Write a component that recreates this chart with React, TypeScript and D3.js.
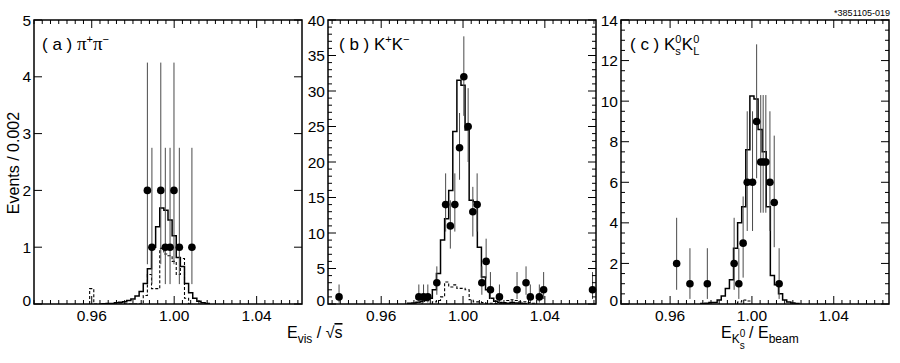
import React, { useEffect, useRef } from 'react';
import * as d3 from 'd3';

// bin width of every histogram
const binW = 0.002;

// (a) pi+ pi-
const piPointX = [0.987, 0.9892, 0.9935, 0.9957, 0.998, 0.9999, 1.0025, 1.0086];
const piPointY = [2, 1, 2, 1, 1, 2, 1, 1];
const piErrLo = [0.7, 0.35, 0.7, 0.35, 0.35, 0.7, 0.35, 0.35];
const piErrHi = [4.25, 2.75, 4.25, 2.75, 2.75, 4.25, 2.75, 2.75];
const piMcStart = 0.966;
const piMc = [0.005, 0.01, 0.01, 0.02, 0.03, 0.04, 0.06, 0.09, 0.14, 0.22, 0.36, 0.62, 1.0, 1.36, 1.69, 1.65, 1.48, 1.2, 0.82, 0.66, 0.36, 0.2, 0.1, 0.05, 0.02, 0.01];
const piBgStart = 0.960;
const piBg = [0.27, 0, 0, 0, 0, 0, 0, 0, 0, 0, 0, 0, 0, 0.15, 0.52, 0.27, 0.27, 0.98, 0.88, 0.85, 0.75, 0.52, 0.8, 0.1, 0];

// (b) K+ K-
const kkPointX = [0.9394, 0.9784, 0.9807, 0.9828, 0.9872, 0.9915, 0.9938, 0.996, 0.9983, 1.0004, 1.0025, 1.0048, 1.0069, 1.0092, 1.0113, 1.0134, 1.0178, 1.0264, 1.0308, 1.0329, 1.0373, 1.0394, 1.0633];
const kkPointY = [1, 1, 1, 1, 3, 14, 11, 14, 22, 32, 25, 13, 14, 3, 6, 2, 1, 2, 3, 1, 1, 2, 2];
const kkErrLo = [0.2, 0.2, 0.2, 0.2, 1.3, 10.2, 7.8, 10.2, 17.5, 26.5, 20, 9.5, 10.2, 1.3, 3.6, 0.7, 0.2, 0.7, 1.3, 0.2, 0.2, 0.7, 0.7];
const kkErrHi = [2.75, 2.75, 2.75, 2.75, 5.3, 18.4, 14.6, 18.4, 26.9, 37.7, 30.4, 16.5, 18.4, 5.3, 9.2, 4.5, 2.75, 4.5, 5.3, 2.75, 2.75, 4.5, 4.5];
const kkMcStart = 0.974;
const kkMc = [0.1, 0.15, 0.25, 0.4, 0.5, 0.8, 2.0, 4.3, 9.0, 12.0, 16.0, 24.3, 31.5, 30.8, 24.5, 14.6, 14.4, 8.0, 3.8, 2.0, 0.8, 0.4, 0.2, 0.15, 0.1, 0.2, 0.15, 0.1, 0.05];
const kkBgStart = 0.986;
const kkBg = [0.3, 0.5, 1.0, 3.1, 2.4, 2.7, 2.2, 2.2, 2.0, 0.6, 0.3, 0.3, 0.2, 0.1, 0.1, 0.05, 0.1, 0.2, 0.5, 0.6, 0.5, 0.3, 0.3, 0.2, 0.1];

// (c) Ks KL
const ksPointX = [0.9632, 0.9697, 0.9782, 0.9913, 0.9936, 0.9957, 0.9977, 1.0003, 1.0023, 1.0043, 1.0055, 1.0068, 1.0088, 1.0109, 1.0133];
const ksPointY = [2, 1, 1, 2, 1, 3, 6, 6, 9, 7, 7, 7, 6, 5, 1];
const ksErrLo = [0.7, 0.25, 0.25, 0.7, 0.25, 1.3, 3.6, 3.6, 6.2, 4.5, 4.5, 4.5, 3.6, 2.8, 0.25];
const ksErrHi = [4.25, 2.75, 2.75, 4.25, 2.75, 5.3, 9.5, 9.5, 12.8, 10.3, 10.3, 10.3, 9.5, 8.3, 2.75];
const ksMcStart = 0.976;
const ksMc = [0.02, 0.04, 0.07, 0.07, 0.2, 0.4, 0.77, 1.2, 2.75, 4.0, 4.8, 7.6, 10.25, 10.1, 8.6, 7.5, 4.8, 1.4, 0.95, 0.5, 0.2, 0.1, 0.05, 0.02];
const ksBgStart = 0.994;
const ksBg = [0.1, 0.2, 0.15];

const xTickLabels = ['0.96', '1.00', '1.04'];

const FONT = 'Liberation Sans, Arial, Helvetica, sans-serif';

const panels = [
    { left: 34, domain: [0.932, 1.062], yMax: 5, yMajor: 1, yMinor: 0, px: piPointX, py: piPointY, lo: piErrLo, hi: piErrHi, mcStart: piMcStart, mc: piMc, bgStart: piBgStart, bg: piBg },
    { left: 328, domain: [0.934, 1.065], yMax: 40, yMajor: 5, yMinor: 1, px: kkPointX, py: kkPointY, lo: kkErrLo, hi: kkErrHi, mcStart: kkMcStart, mc: kkMc, bgStart: kkBgStart, bg: kkBg },
    { left: 621, domain: [0.936, 1.067], yMax: 14, yMajor: 2, yMinor: 0.5, px: ksPointX, py: ksPointY, lo: ksErrLo, hi: ksErrHi, mcStart: ksMcStart, mc: ksMc, bgStart: ksBgStart, bg: ksBg },
];

const App = () => {
    const svgRef = useRef<SVGSVGElement>(null);

    useEffect(() => {
        const svg = d3.select(svgRef.current);
        svg.selectAll('*').remove();

        const top = 20, bottom = 304, plotW = 268;

        panels.forEach((p, i) => {
            const x = d3.scaleLinear().domain(p.domain).range([p.left, p.left + plotW]);
            const y = d3.scaleLinear().domain([0, p.yMax]).range([bottom, top]);
            const g = svg.append('g');

            const clipId = `clip${i}`;
            svg.append('clipPath').attr('id', clipId)
                .append('rect').attr('x', p.left).attr('y', top).attr('width', plotW).attr('height', bottom - top);

            //histogram path from bin centres
            const histPath = (start: number, vals: number[]) => {
                const pts: [number, number][] = [[start - binW / 2, 0]];
                vals.forEach((v, k) => {
                    const e0 = start - binW / 2 + k * binW;
                    pts.push([e0, v], [e0 + binW, v]);
                });
                pts.push([start - binW / 2 + vals.length * binW, 0]);
                return d3.line<[number, number]>().x(d => x(d[0])).y(d => y(d[1]))(pts);
            };

            g.append('path')
                .attr('d', histPath(p.bgStart, p.bg))
                .attr('fill', 'none').attr('stroke', '#000').attr('stroke-width', 1.1)
                .attr('stroke-dasharray', '3,2')
                .attr('clip-path', `url(#${clipId})`);

            g.append('path')
                .attr('d', histPath(p.mcStart, p.mc))
                .attr('fill', 'none').attr('stroke', '#000').attr('stroke-width', 1.5)
                .attr('clip-path', `url(#${clipId})`);

            //error bars
            g.selectAll('.err').data(p.px).enter().append('line')
                .attr('x1', d => x(d)).attr('x2', d => x(d))
                .attr('y1', (d, k) => y(p.lo[k])).attr('y2', (d, k) => y(p.hi[k]))
                .attr('stroke', '#4a4a4a').attr('stroke-width', 1)
                .attr('clip-path', `url(#${clipId})`);

            //points
            g.selectAll('.dot').data(p.px).enter().append('circle')
                .attr('cx', d => x(d)).attr('cy', (d, k) => y(p.py[k]))
                .attr('r', 3.8).attr('fill', '#000');

            //frame
            g.append('rect')
                .attr('x', p.left).attr('y', top).attr('width', plotW).attr('height', bottom - top)
                .attr('fill', 'none').attr('stroke', '#000').attr('stroke-width', 1.5);

            //x ticks top and bottom
            const minorX = d3.range(Math.ceil(p.domain[0] / 0.004), Math.floor(p.domain[1] / 0.004) + 1).map(k => k * 0.004);
            minorX.forEach(v => {
                const major = xTickLabels.includes(v.toFixed(2)) && Math.abs(v * 100 - Math.round(v * 100)) < 1e-6;
                const len = major ? 8 : 4;
                g.append('line').attr('x1', x(v)).attr('x2', x(v)).attr('y1', bottom).attr('y2', bottom - len)
                    .attr('stroke', '#000').attr('stroke-width', 1);
                g.append('line').attr('x1', x(v)).attr('x2', x(v)).attr('y1', top).attr('y2', top + len)
                    .attr('stroke', '#000').attr('stroke-width', 1);
            });
            xTickLabels.forEach(t => {
                g.append('text').attr('x', x(+t)).attr('y', 321)
                    .attr('text-anchor', 'middle').attr('font-family', FONT).attr('font-size', 15.5)
                    .text(t);
            });

            //y ticks left and right
            const yTicks: number[] = p.yMinor ? d3.range(0, p.yMax + 1e-9, p.yMinor) : d3.range(0, p.yMax + 1e-9, p.yMajor);
            yTicks.forEach(v => {
                const major = Math.abs(v / p.yMajor - Math.round(v / p.yMajor)) < 1e-6;
                const len = major ? 8 : 4;
                g.append('line').attr('x1', p.left).attr('x2', p.left + len).attr('y1', y(v)).attr('y2', y(v))
                    .attr('stroke', '#000').attr('stroke-width', 1);
                g.append('line').attr('x1', p.left + plotW).attr('x2', p.left + plotW - len).attr('y1', y(v)).attr('y2', y(v))
                    .attr('stroke', '#000').attr('stroke-width', 1);
            });
            d3.range(0, p.yMax + 1e-9, p.yMajor).forEach(v => {
                // the zero label sits a little above its tick
                g.append('text').attr('x', p.left - 3).attr('y', y(v) + (v === 0 ? 1.5 : 5.5))
                    .attr('text-anchor', 'end').attr('font-family', FONT).attr('font-size', 15.5)
                    .text(String(v));
            });
        });

        const txt = (xp: number, yp: number, size: number) =>
            svg.append('text').attr('x', xp).attr('y', yp).attr('font-family', FONT).attr('font-size', size).attr('fill', '#000');

        //panel labels
        const la = txt(42, 50, 17);
        la.append('tspan').text('( a ) ');
        la.append('tspan').attr('font-family', 'Liberation Serif, serif').attr('font-size', 19).text('π');
        la.append('tspan').attr('dy', -7).attr('font-size', 11).text('+');
        la.append('tspan').attr('dy', 7).attr('font-family', 'Liberation Serif, serif').attr('font-size', 19).text('π');
        la.append('tspan').attr('dy', -7).attr('font-size', 11).text('−');

        const lb = txt(339, 50, 17);
        lb.append('tspan').text('( b ) K');
        lb.append('tspan').attr('dy', -7).attr('font-size', 11).text('+');
        lb.append('tspan').attr('dy', 7).text('K');
        lb.append('tspan').attr('dy', -7).attr('font-size', 11).text('−');

        const lc = txt(630, 50, 17);
        lc.append('tspan').text('( c ) K');
        lc.append('tspan').attr('dy', -7).attr('font-size', 11).text('0');
        lc.append('tspan').attr('dx', -6.1).attr('dy', 12).attr('font-size', 11).text('s');
        lc.append('tspan').attr('dx', 1).attr('dy', -5).text('K');
        lc.append('tspan').attr('dy', -7).attr('font-size', 11).text('0');
        lc.append('tspan').attr('dx', -6.1).attr('dy', 12).attr('font-size', 11).text('L');

        //y axis title
        svg.append('text')
            .attr('transform', 'translate(19,163) rotate(-90)')
            .attr('text-anchor', 'middle').attr('font-family', FONT).attr('font-size', 16)
            .text('Events / 0.002');

        //x axis titles
        const xa = txt(287, 338, 16);
        xa.append('tspan').text('E');
        xa.append('tspan').attr('dy', 5).attr('font-size', 12).text('vis');
        xa.append('tspan').attr('dy', -5).text(' / √');
        xa.append('tspan').style('text-decoration', 'overline').text('s');

        const xc = txt(721, 338, 16);
        xc.append('tspan').text('E');
        xc.append('tspan').attr('dy', 5).attr('font-size', 12).text('K');
        xc.append('tspan').attr('dy', -6).attr('font-size', 10).text('0');
        xc.append('tspan').attr('dx', -5.6).attr('dy', 12).attr('font-size', 10).text('s');
        xc.append('tspan').attr('dy', -11).text(' / E');
        xc.append('tspan').attr('dy', 5).attr('font-size', 12).text('beam');

        //figure id
        txt(890, 16, 9).attr('text-anchor', 'end').text('*3851105-019');
    }, []);

    return (
        <svg ref={svgRef} width={900} height={363}
            style={{ position: 'absolute', left: 0, top: 0, background: '#fff', display: 'block' }} />
    );
};

export default App;
